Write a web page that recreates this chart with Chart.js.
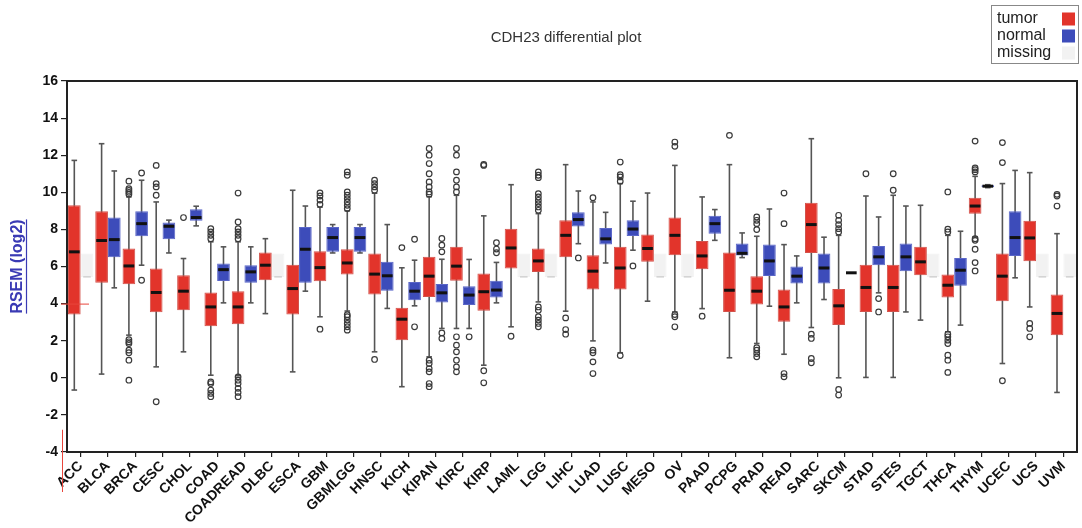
<!DOCTYPE html>
<html>
<head>
<meta charset="utf-8">
<script src="https://cdn.jsdelivr.net/npm/chart.js@4.4.0/dist/chart.umd.min.js"></script>
<style>
  html, body { margin: 0; padding: 0; background: #ffffff; }
  #wrap { width: 1082px; height: 528px; }
</style>
</head>
<body>
<div id="wrap"><canvas id="c" width="1082" height="528"></canvas></div>
<script>
// ---------------- DATA ----------------
const categories = ["ACC","BLCA","BRCA","CESC","CHOL","COAD","COADREAD","DLBC","ESCA","GBM","GBMLGG","HNSC","KICH","KIPAN","KIRC","KIRP","LAML","LGG","LIHC","LUAD","LUSC","MESO","OV","PAAD","PCPG","PRAD","READ","SARC","SKCM","STAD","STES","TGCT","THCA","THYM","UCEC","UCS","UVM"];

// tumor box statistics (log2 RSEM)
const tumorMin = [-0.66,0.2,2.3,0.59,1.40,0.14,0.11,3.46,0.32,3.29,3.6,1.4,-0.48,1.13,2.66,0.68,2.75,4.09,3.59,1.99,1.35,4.13,3.55,3.73,1.08,1.85,1.27,2.71,0.0,0.02,0.02,3.11,2.48,7.59,0.77,3.82,-0.79];
const tumorQ1  = [3.41,5.13,5.04,3.54,3.64,2.78,2.89,5.26,3.41,5.2,5.57,4.49,2.03,4.36,5.23,3.61,5.89,5.71,6.5,4.76,4.76,6.25,6.61,5.85,3.55,3.95,3.02,6.73,2.84,3.55,3.55,5.53,4.33,8.85,4.13,6.28,2.3];
const tumorMed = [6.79,7.40,6.03,4.6,4.67,3.82,3.82,6.07,4.81,5.94,6.19,5.59,3.16,5.48,6.02,4.64,7.0,6.3,7.68,5.75,5.92,6.97,7.68,6.57,4.72,4.67,3.82,8.26,3.88,4.87,4.87,6.25,4.99,9.26,5.48,7.54,3.47];
const tumorQ3  = [9.30,8.98,6.97,5.89,5.53,4.6,4.67,6.75,6.10,6.82,6.93,6.7,3.77,6.52,7.06,5.62,8.04,6.97,8.49,6.61,7.06,7.72,8.64,7.38,6.75,5.48,4.76,9.43,4.79,6.1,6.1,7.06,5.57,9.7,6.7,8.46,4.49];
const tumorMax = [11.72,12.62,9.75,9.48,6.43,7.33,7.33,7.5,10.11,9.2,9.0,9.95,5.93,9.76,9.84,8.73,10.41,8.85,11.49,9.48,10.47,9.96,11.45,9.75,11.49,7.63,7.18,12.89,7.68,9.8,9.84,9.3,7.68,10.86,10.47,11.06,7.77];
const tumorOut = [
  [], [],
  [9.9,10.0,10.1,10.2,10.6,2.06,1.94,1.85,1.49,1.35,0.95,-0.13],
  [11.45,10.47,10.29,9.84,-1.29],
  [8.64],
  [8.04,7.86,7.68,7.5,-0.22,-0.31,-0.66,-0.84,-1.02],
  [9.96,8.4,8.04,7.86,7.68,7.5,0.05,-0.13,-0.31,-0.57,-0.79,-1.02],
  [], [],
  [9.97,9.8,9.58,9.35,2.62],
  [11.1,10.92,10.02,9.84,9.66,9.48,9.3,9.12,3.4,3.29,3.11,2.93,2.75,2.57],
  [10.65,10.47,10.29,10.11,0.99],
  [7.02],
  [12.36,12.0,11.55,11.0,10.56,10.29,10.02,9.9,0.95,0.77,0.5,0.32,-0.31,-0.48],
  [12.36,12.0,11.1,10.65,10.29,10.02,2.21,1.76,1.4,0.95,0.59,0.32],
  [11.5,11.45,0.38,-0.27],
  [2.24],
  [11.1,10.92,10.79,9.93,9.75,9.57,9.39,9.21,9.03,3.82,3.64,3.29,3.11,2.93,2.75],
  [3.23,2.6,2.35],
  [9.71,1.49,1.35,0.86,0.23],
  [11.63,10.95,10.83,10.6,1.2],
  [],
  [12.71,12.48,3.41,3.29,2.75],
  [3.32],
  [13.07],
  [8.67,8.49,8.31,7.99,1.62,1.49,1.31,1.13],
  [9.96,8.31,0.23,0.05],
  [2.35,2.12,1.04,0.81],
  [8.76,8.49,8.26,8.04,7.86,-0.63,-0.93],
  [11.0],
  [11.0,10.11],
  [],
  [10.02,8.01,7.86,2.35,2.21,2.03,1.85,1.22,0.95,0.29],
  [12.76,11.31,11.22,11.1,7.5,7.41,6.93,6.21,5.76],
  [12.68,11.6,-0.16],
  [2.93,2.66,2.21],
  [9.89,9.8,9.26]
];

// normal box statistics (null = missing)
const normalMin = [null,4.85,6.07,6.73,8.19,4.04,4.04,null,4.67,6.73,6.73,3.74,3.88,2.66,2.66,4.04,null,null,7.23,6.19,6.88,null,null,7.41,6.48,3.86,4.04,4.22,5.66,4.58,3.55,null,2.84,10.25,5.39,null,null];
const normalQ1  = [null,6.50,7.63,7.47,8.46,5.22,5.12,null,5.12,6.79,6.79,4.69,4.18,4.06,3.92,4.33,null,null,8.15,7.18,7.65,null,null,7.77,6.59,5.49,5.08,5.08,5.66,6.07,5.75,null,4.96,10.28,6.57,null,null];
const normalMed = [null,7.45,8.31,8.17,8.64,5.83,5.71,null,6.93,7.56,7.56,5.5,4.67,4.58,4.46,4.73,null,null,8.53,7.49,8.02,null,null,8.31,6.71,6.3,5.48,5.92,5.66,6.52,6.52,null,5.8,10.33,7.56,null,null];
const normalQ3  = [null,8.64,8.98,8.37,9.08,6.16,6.07,null,8.13,8.13,8.13,6.25,5.17,5.05,4.94,5.23,null,null,8.92,8.08,8.49,null,null,8.74,7.24,7.18,6.0,6.7,5.66,7.11,7.24,null,6.46,10.38,8.98,null,null];
const normalMax = [null,11.15,10.65,8.5,9.25,7.06,7.06,null,9.26,8.26,8.26,8.26,6.34,6.39,6.38,6.22,null,null,10.07,8.92,9.52,null,null,9.07,7.81,9.1,6.57,7.58,5.66,8.67,9.26,null,7.9,10.41,11.18,null,null];
const normalOut = [
  [], [], [11.04,5.26], [], [], [], [], [], [], [], [], [],
  [7.47,2.75],
  [7.51,7.15,6.79,2.42,2.12],
  [2.21],
  [7.28,6.94,6.74],
  [], [],
  [6.46],
  [],
  [6.03],
  [], [], [], [], [], [], [], [],
  [4.27,3.55],
  [], [], [], [], [], [], []
];

// "missing" band drawn in the normal slot
const missingLow = 5.44;
const missingHigh = 6.7;

const yTicksMin = -4, yTicksMax = 16, yTickStep = 2;

// ---------------- STYLE ----------------
const RED = "#e2342b", RED_EDGE = "#d2524b";
const BLUE = "#3d4cba", BLUE_EDGE = "#5a66c8";
const MISS = "#f2f2f2";

const tumorRanges = categories.map((c, i) => [tumorQ1[i], tumorQ3[i]]);
const normalRanges = categories.map((c, i) => normalQ1[i] === null ? [missingLow, missingHigh] : [normalQ1[i], normalQ3[i]]);
const normalFill = categories.map((c, i) => normalQ1[i] === null ? MISS : BLUE);
const normalEdge = categories.map((c, i) => normalQ1[i] === null ? MISS : BLUE_EDGE);

const stats = [
  { min: tumorMin, med: tumorMed, q1: tumorQ1, q3: tumorQ3, max: tumorMax, out: tumorOut },
  { min: normalMin, med: normalMed, q1: normalQ1, q3: normalQ3, max: normalMax, out: normalOut }
];

const FONT = "'Liberation Sans', Arial, sans-serif";

const boxPlugin = {
  id: "boxDecor",
  beforeDatasetsDraw(chart) {
    const ctx = chart.ctx, y = chart.scales.y;
    ctx.save();
    stats.forEach((s, di) => {
      const meta = chart.getDatasetMeta(di);
      meta.data.forEach((el, i) => {
        if (s.q1[i] === null || s.q1[i] === undefined) return;
        const x = el.x, half = el.width * 0.22;
        ctx.strokeStyle = "#555";
        ctx.lineWidth = 1.6;
        ctx.beginPath();
        ctx.moveTo(x, y.getPixelForValue(s.min[i]));
        ctx.lineTo(x, y.getPixelForValue(s.max[i]));
        ctx.stroke();
        [s.min[i], s.max[i]].forEach(v => {
          const py = y.getPixelForValue(v);
          ctx.beginPath();
          ctx.moveTo(x - half, py);
          ctx.lineTo(x + half, py);
          ctx.stroke();
        });
      });
    });
    ctx.restore();
  },
  afterDatasetsDraw(chart) {
    const ctx = chart.ctx, y = chart.scales.y, area = chart.chartArea;
    ctx.save();
    // missing baseline
    const nmeta = chart.getDatasetMeta(1);
    nmeta.data.forEach((el, i) => {
      if (normalQ1[i] !== null) return;
      const py = y.getPixelForValue(missingLow);
      ctx.strokeStyle = "#c8c8c8";
      ctx.lineWidth = 1.2;
      ctx.beginPath();
      ctx.moveTo(el.x - el.width * 0.3, py);
      ctx.lineTo(el.x + el.width * 0.3, py);
      ctx.stroke();
    });
    stats.forEach((s, di) => {
      const meta = chart.getDatasetMeta(di);
      meta.data.forEach((el, i) => {
        if (s.q1[i] === null || s.q1[i] === undefined) return;
        const x = el.x, w = el.width;
        // median
        ctx.strokeStyle = "#111";
        ctx.lineWidth = 3;
        const pm = y.getPixelForValue(s.med[i]);
        ctx.beginPath();
        ctx.moveTo(x - w / 2 + 1, pm);
        ctx.lineTo(x + w / 2 - 1, pm);
        ctx.stroke();
        // outliers
        ctx.strokeStyle = "#3a3a3a";
        ctx.lineWidth = 1.2;
        (s.out[i] || []).forEach(v => {
          ctx.beginPath();
          ctx.arc(x, y.getPixelForValue(v), 2.8, 0, Math.PI * 2);
          ctx.stroke();
        });
      });
    });
    // frame
    ctx.strokeStyle = "#222";
    ctx.lineWidth = 2;
    ctx.strokeRect(area.left, area.top, area.right - area.left, area.bottom - area.top);
    // red marker lines present in the original picture
    ctx.strokeStyle = "#e8453c";
    ctx.lineWidth = 1;
    const p4 = y.getPixelForValue(4);
    ctx.beginPath();
    ctx.moveTo(area.left - 6, p4 + 0.5);
    ctx.lineTo(area.left + 22, p4 + 0.5);
    ctx.stroke();
    ctx.beginPath();
    ctx.moveTo(area.left - 4.5, y.getPixelForValue(-2.8));
    ctx.lineTo(area.left - 4.5, area.bottom + 40);
    ctx.stroke();
    ctx.restore();
  },
  afterDraw(chart) {
    const ctx = chart.ctx, area = chart.chartArea;
    ctx.save();
    // title
    ctx.fillStyle = "#333";
    ctx.font = "15px " + FONT;
    ctx.textAlign = "center";
    ctx.textBaseline = "middle";
    ctx.fillText("CDH23 differential plot", 566, 38);
    // y axis title (blue, underlined)
    ctx.translate(18, (area.top + area.bottom) / 2);
    ctx.rotate(-Math.PI / 2);
    ctx.fillStyle = "#3a3ab4";
    ctx.font = "bold 16px " + FONT;
    ctx.textAlign = "center";
    ctx.textBaseline = "middle";
    const t = "RSEM (log2)";
    ctx.fillText(t, 0, 0);
    const tw = ctx.measureText(t).width;
    ctx.strokeStyle = "#3a3ab4";
    ctx.lineWidth = 1.2;
    ctx.beginPath();
    ctx.moveTo(-tw / 2, 8.5);
    ctx.lineTo(tw / 2, 8.5);
    ctx.stroke();
    ctx.restore();
    // legend
    ctx.save();
    ctx.strokeStyle = "#888";
    ctx.lineWidth = 1;
    ctx.strokeRect(991.5, 5.5, 87, 58);
    const items = [["tumor", RED], ["normal", BLUE], ["missing", MISS]];
    ctx.font = "16px " + FONT;
    ctx.textAlign = "left";
    ctx.textBaseline = "middle";
    items.forEach((it, k) => {
      const cy = 19 + k * 17;
      ctx.fillStyle = "#222";
      ctx.fillText(it[0], 997, cy);
      ctx.fillStyle = it[1];
      ctx.fillRect(1062, cy - 6.5, 13, 13);
    });
    ctx.restore();
  }
};

new Chart(document.getElementById("c"), {
  type: "bar",
  data: {
    labels: categories,
    datasets: [
      { label: "tumor", data: tumorRanges, backgroundColor: RED, borderColor: RED_EDGE, borderWidth: 1, borderSkipped: false,
        categoryPercentage: 0.93, barPercentage: 1.0 },
      { label: "normal", data: normalRanges, backgroundColor: normalFill, borderColor: normalEdge, borderWidth: 1, borderSkipped: false,
        categoryPercentage: 0.93, barPercentage: 1.0 }
    ]
  },
  options: {
    responsive: false,
    animation: false,
    events: [],
    layout: { padding: { left: 0, right: 5, top: 81, bottom: 0 } },
    plugins: { legend: { display: false }, tooltip: { enabled: false }, title: { display: false } },
    scales: {
      x: {
        type: "category",
        offset: true,
        grid: { display: true, drawOnChartArea: false, drawTicks: true, tickLength: 5, offset: false, color: "#222", lineWidth: 1.2 },
        border: { display: true, color: "#222", width: 2 },
        ticks: { autoSkip: false, minRotation: 45, maxRotation: 45, padding: 1, color: "#111",
                 font: { family: FONT, size: 14, weight: "bold" } },
        afterFit(scale) { scale.height = 76; }
      },
      y: {
        min: yTicksMin, max: yTicksMax,
        grid: { display: true, drawOnChartArea: false, drawTicks: true, tickLength: 6, color: "#222", lineWidth: 1.2 },
        border: { display: true, color: "#222", width: 2 },
        ticks: { stepSize: yTickStep, padding: 3, color: "#111",
                 font: { family: FONT, size: 14, weight: "bold" } },
        afterFit(scale) { scale.width = 67; }
      }
    }
  },
  plugins: [boxPlugin]
});
</script>
</body>
</html>
